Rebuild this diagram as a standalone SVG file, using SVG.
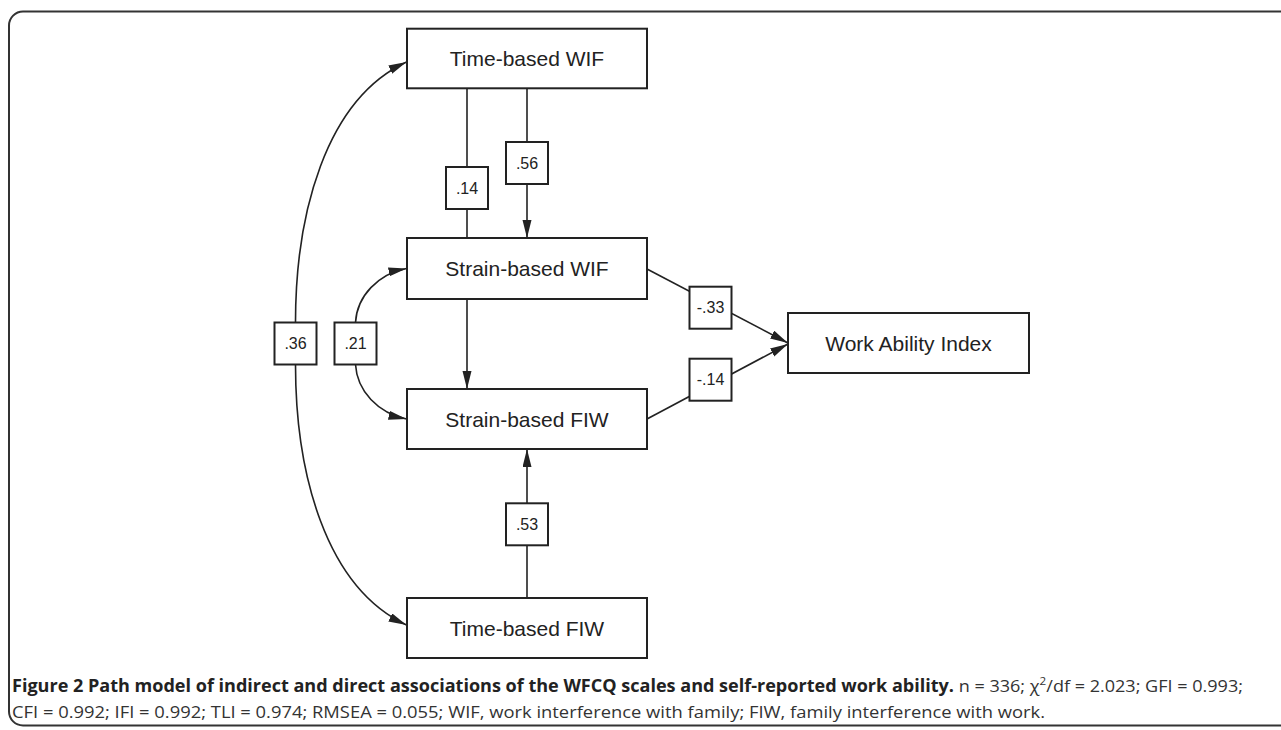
<svg xmlns="http://www.w3.org/2000/svg" width="1281" height="730" viewBox="0 0 1281 730">
<style>
.node rect{fill:#fff;stroke:#222;stroke-width:2}
.node text{font-family:"Liberation Sans",Arial,sans-serif;font-size:21px;fill:#222;text-anchor:middle}
.lab rect{fill:#fff;stroke:#222;stroke-width:2}
.lab text{font-family:"Liberation Sans",Arial,sans-serif;font-size:16px;fill:#222;text-anchor:middle}
.conn{fill:none;stroke:#222;stroke-width:1.6}
.cap{font-family:"Open Sans","Noto Sans",sans-serif;font-size:17px;fill:#333}
</style>
<defs>
<marker id="arr" markerUnits="userSpaceOnUse" markerWidth="19" markerHeight="10" refX="18" refY="4.5" orient="auto">
<path d="M0,0 L18,4.5 L0,9 z" fill="#222"/>
</marker>
</defs>
<rect x="9" y="11.5" width="1295" height="714" rx="14" fill="none" stroke="#333" stroke-width="2"/>
<g id="connectors">
<line class="conn" x1="467" y1="88" x2="467" y2="238"/>
<line class="conn" x1="527" y1="88" x2="527" y2="238" marker-end="url(#arr)"/>
<line class="conn" x1="467" y1="299" x2="467" y2="389" marker-end="url(#arr)"/>
<line class="conn" x1="527" y1="598" x2="527" y2="449" marker-end="url(#arr)"/>
<path class="conn" d="M355.5,322.5 C357,296 378,274 406.5,268.5" marker-end="url(#arr)"/>
<path class="conn" d="M355.5,364.5 C357,391 378,413 406.5,419" marker-end="url(#arr)"/>
<path class="conn" d="M295.5,322.5 C295.5,215 325,100 406.5,62" marker-end="url(#arr)"/>
<path class="conn" d="M295.5,364.5 C295.5,472 325,587 406.5,625" marker-end="url(#arr)"/>
<line class="conn" x1="647" y1="269" x2="788" y2="343" marker-end="url(#arr)"/>
<line class="conn" x1="647" y1="419" x2="788" y2="344" marker-end="url(#arr)"/>
</g>
<g class="lab" id="lab-14"><rect x="446" y="167" width="42" height="42"/><text x="467" y="193.7">.14</text></g>
<g class="lab" id="lab-56"><rect x="506" y="142" width="42" height="42"/><text x="527" y="168.7">.56</text></g>
<g class="lab" id="lab-36"><rect x="274.5" y="322.5" width="42" height="42"/><text x="295.5" y="349.4">.36</text></g>
<g class="lab" id="lab-21"><rect x="334.5" y="322.5" width="42" height="42"/><text x="355.5" y="349.4">.21</text></g>
<g class="lab" id="lab-33"><rect x="689.5" y="286.7" width="42" height="42"/><text x="710.5" y="313.4">-.33</text></g>
<g class="lab" id="lab-m14"><rect x="689.5" y="358.7" width="42" height="42"/><text x="710.5" y="385.4">-.14</text></g>
<g class="lab" id="lab-53"><rect x="506" y="503.3" width="42" height="42"/><text x="527" y="530">.53</text></g>
<g class="node" id="time-wif"><rect x="407" y="28.7" width="240" height="59.6"/><text x="527" y="66">Time-based WIF</text></g>
<g class="node" id="strain-wif"><rect x="407" y="238" width="240" height="61"/><text x="527" y="276">Strain-based WIF</text></g>
<g class="node" id="strain-fiw"><rect x="407" y="389" width="240" height="60"/><text x="527" y="426.5">Strain-based FIW</text></g>
<g class="node" id="time-fiw"><rect x="407" y="598" width="240" height="60"/><text x="527" y="635.5">Time-based FIW</text></g>
<g class="node" id="wai"><rect x="788" y="313" width="241" height="60"/><text x="908.5" y="350.5">Work Ability Index</text></g>
<text class="cap" x="12" y="692" textLength="1231" lengthAdjust="spacingAndGlyphs"><tspan font-weight="bold" fill="#222">Figure 2 Path model of indirect and direct associations of the WFCQ scales and self-reported work ability.</tspan> n = 336; χ<tspan dy="-7" font-size="11">2</tspan><tspan dy="7">/df = 2.023; GFI = 0.993;</tspan></text>
<text class="cap" x="12" y="718" textLength="1033" lengthAdjust="spacingAndGlyphs">CFI = 0.992; IFI = 0.992; TLI = 0.974; RMSEA = 0.055; WIF, work interference with family; FIW, family interference with work.</text>
</svg>
